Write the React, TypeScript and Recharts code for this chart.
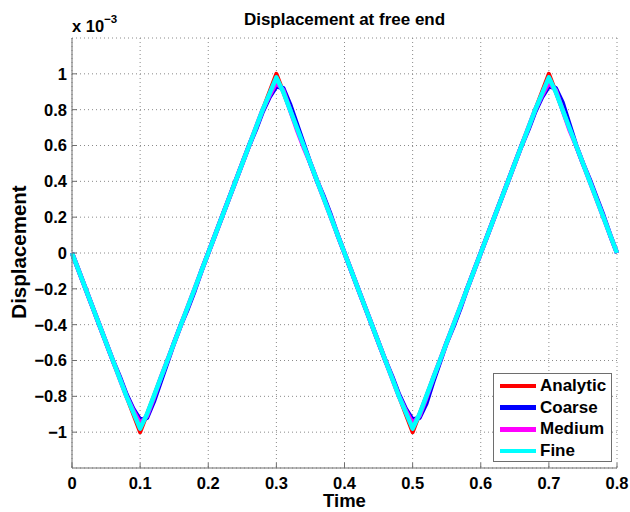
import React from 'react';
import { LineChart, Line, XAxis, YAxis, CartesianGrid, Label } from 'recharts';

const analyticTime = [0, 0.1, 0.2, 0.3, 0.4, 0.5, 0.6, 0.7, 0.8];
const analyticDisp = [0, -1, 0, 1, 0, -1, 0, 1, 0];

const simTime = [
  0, 0.01, 0.02, 0.03, 0.04, 0.05, 0.06, 0.07, 0.08, 0.09, 0.1,
  0.11, 0.12, 0.13, 0.14, 0.15, 0.16, 0.17, 0.18, 0.19, 0.2,
  0.21, 0.22, 0.23, 0.24, 0.25, 0.26, 0.27, 0.28, 0.29, 0.3,
  0.31, 0.32, 0.33, 0.34, 0.35, 0.36, 0.37, 0.38, 0.39, 0.4,
  0.41, 0.42, 0.43, 0.44, 0.45, 0.46, 0.47, 0.48, 0.49, 0.5,
  0.51, 0.52, 0.53, 0.54, 0.55, 0.56, 0.57, 0.58, 0.59, 0.6,
  0.61, 0.62, 0.63, 0.64, 0.65, 0.66, 0.67, 0.68, 0.69, 0.7,
  0.71, 0.72, 0.73, 0.74, 0.75, 0.76, 0.77, 0.78, 0.79, 0.8,
];
const coarseDisp = [
  0, -0.1, -0.2, -0.3, -0.4, -0.5, -0.6, -0.69, -0.79, -0.87, -0.93,
  -0.92, -0.83, -0.72, -0.61, -0.5, -0.4, -0.31, -0.21, -0.1, 0,
  0.1, 0.2, 0.3, 0.4, 0.5, 0.6, 0.69, 0.79, 0.87, 0.93,
  0.92, 0.83, 0.72, 0.61, 0.5, 0.4, 0.31, 0.21, 0.1, 0,
  -0.1, -0.2, -0.3, -0.4, -0.5, -0.6, -0.69, -0.79, -0.87, -0.93,
  -0.92, -0.84, -0.72, -0.61, -0.5, -0.41, -0.31, -0.2, -0.1, 0,
  0.1, 0.2, 0.3, 0.4, 0.5, 0.6, 0.69, 0.79, 0.87, 0.93,
  0.92, 0.84, 0.72, 0.6, 0.5, 0.41, 0.31, 0.21, 0.1, 0,
];
const mediumDisp = [
  0, -0.1, -0.2, -0.3, -0.4, -0.5, -0.6, -0.7, -0.8, -0.88, -0.95,
  -0.91, -0.81, -0.7, -0.6, -0.5, -0.4, -0.3, -0.2, -0.1, 0,
  0.1, 0.2, 0.3, 0.4, 0.5, 0.6, 0.7, 0.8, 0.88, 0.95,
  0.91, 0.8, 0.69, 0.59, 0.5, 0.4, 0.3, 0.2, 0.1, 0,
  -0.1, -0.2, -0.3, -0.4, -0.5, -0.6, -0.7, -0.8, -0.88, -0.95,
  -0.91, -0.81, -0.7, -0.6, -0.5, -0.4, -0.3, -0.2, -0.1, 0,
  0.1, 0.2, 0.3, 0.4, 0.5, 0.6, 0.7, 0.8, 0.88, 0.95,
  0.91, 0.8, 0.69, 0.6, 0.5, 0.4, 0.3, 0.2, 0.1, 0,
];
const fineDisp = [
  0, -0.1, -0.2, -0.3, -0.4, -0.5, -0.6, -0.7, -0.8, -0.89, -0.98,
  -0.9, -0.8, -0.7, -0.6, -0.5, -0.4, -0.3, -0.2, -0.1, 0,
  0.1, 0.2, 0.3, 0.4, 0.5, 0.6, 0.7, 0.8, 0.89, 0.98,
  0.9, 0.8, 0.7, 0.6, 0.5, 0.4, 0.3, 0.2, 0.1, 0,
  -0.1, -0.2, -0.3, -0.4, -0.5, -0.6, -0.7, -0.8, -0.89, -0.98,
  -0.9, -0.8, -0.7, -0.6, -0.5, -0.4, -0.3, -0.2, -0.1, 0,
  0.1, 0.2, 0.3, 0.4, 0.5, 0.6, 0.7, 0.8, 0.89, 0.98,
  0.9, 0.8, 0.7, 0.6, 0.5, 0.4, 0.3, 0.2, 0.1, 0,
];

const seriesNames = ['Analytic', 'Coarse', 'Medium', 'Fine'];
const seriesColors = ['#ff0000', '#0000ff', '#ff00ff', '#00ffff'];

const xTicks = [0, 0.1, 0.2, 0.3, 0.4, 0.5, 0.6, 0.7, 0.8];
const yTicks = [-1, -0.8, -0.6, -0.4, -0.2, 0, 0.2, 0.4, 0.6, 0.8, 1];

const titleText = 'Displacement at free end';
const xLabelText = 'Time';
const yLabelText = 'Displacement';
const scaleBase = 'x 10';
const scaleExp = '\u22123';

const FONT = '"Liberation Sans", Arial, Helvetica, sans-serif';
const AXIS = '#6e6e6e';

const toPts = (ts: number[], ys: number[]) => ts.map((t, i) => ({ t, y: ys[i] }));
const seriesData = [
  toPts(analyticTime, analyticDisp),
  toPts(simTime, coarseDisp),
  toPts(simTime, mediumDisp),
  toPts(simTime, fineDisp),
];

const fmt = (v: number) => String(Math.round(v * 10) / 10).replace('-', '\u2212');

const tickStyle = { fontFamily: FONT, fontWeight: 700, fontSize: 16.5, fill: '#000' };
const boldText = { fontFamily: FONT, fontWeight: 700, fill: '#000' };

export default function App() {
  return (
    <div style={{ position: 'absolute', left: 0, top: 0, width: 630, height: 512, background: '#fff' }}>
      <LineChart width={630} height={512} margin={{ top: 38, right: 13, bottom: 0, left: 0 }}>
        <CartesianGrid stroke="#8a8a8a" strokeDasharray="1 3" />
        <XAxis
          dataKey="t"
          type="number"
          domain={[0, 0.8]}
          ticks={xTicks}
          height={44}
          tickSize={-5}
          tickMargin={14}
          tick={tickStyle}
          tickFormatter={fmt}
          axisLine={{ stroke: AXIS }}
          tickLine={{ stroke: AXIS }}
        >
          <Label
            content={(p: any) => {
              const vb = p.viewBox || {};
              return (
                <text x={vb.x + vb.width / 2} y={vb.y + 39} textAnchor="middle" style={{ ...boldText, fontSize: 18.5 }}>
                  {xLabelText}
                </text>
              );
            }}
          />
        </XAxis>
        <XAxis
          xAxisId="top"
          orientation="top"
          dataKey="t"
          type="number"
          domain={[0, 0.8]}
          ticks={xTicks}
          height={0}
          tickSize={-5}
          tick={false}
          axisLine={{ stroke: AXIS }}
          tickLine={{ stroke: AXIS }}
        />
        <YAxis
          type="number"
          domain={[-1.2, 1.2]}
          ticks={yTicks}
          width={72}
          tickSize={-5}
          tickMargin={10}
          tick={tickStyle}
          tickFormatter={fmt}
          axisLine={{ stroke: AXIS }}
          tickLine={{ stroke: AXIS }}
        >
          <Label
            content={(p: any) => {
              const vb = p.viewBox || {};
              const x = vb.x + 25.5;
              const y = vb.y + vb.height / 2 - 1;
              return (
                <text
                  x={x}
                  y={y}
                  textAnchor="middle"
                  transform={`rotate(-90, ${x}, ${y})`}
                  style={{ ...boldText, fontSize: 20.5 }}
                >
                  {yLabelText}
                </text>
              );
            }}
          />
        </YAxis>
        <YAxis
          yAxisId="right"
          orientation="right"
          type="number"
          domain={[-1.2, 1.2]}
          ticks={yTicks}
          width={0}
          tickSize={-5}
          tick={false}
          axisLine={{ stroke: AXIS }}
          tickLine={{ stroke: AXIS }}
        />
        {seriesNames.map((name, i) => (
          <Line
            key={name}
            name={name}
            data={seriesData[i]}
            dataKey="y"
            type="linear"
            stroke={seriesColors[i]}
            strokeWidth={i === 0 ? 4 : 4.5}
            strokeLinejoin="round"
            dot={false}
            activeDot={false}
            isAnimationActive={false}
          />
        ))}
      </LineChart>
      <svg
        width={630}
        height={60}
        style={{ position: 'absolute', left: 0, top: 0, pointerEvents: 'none' }}
      >
        <text x={344.5} y={25} textAnchor="middle" style={{ ...boldText, fontSize: 17 }}>
          {titleText}
        </text>
        <text x={72} y={32} style={{ ...boldText, fontSize: 16.5 }}>
          <tspan>{scaleBase}</tspan>
          <tspan dy={-9} style={{ fontSize: 11.5 }}>{scaleExp}</tspan>
        </text>
      </svg>
      <div
        style={{
          position: 'absolute',
          left: 493,
          top: 373,
          width: 117,
          height: 87,
          border: '1px solid #6e6e6e',
          background: '#fff',
          fontFamily: FONT,
          fontWeight: 700,
          fontSize: 17,
          color: '#000',
        }}
      >
        {seriesNames.map((name, i) => (
          <div
            key={name}
            style={{ position: 'absolute', left: 6, top: 1 + i * 21.7, height: 22, display: 'flex', alignItems: 'center' }}
          >
            <div style={{ width: 36, height: 4.5, background: seriesColors[i], marginRight: 4 }} />
            <span style={{ lineHeight: '22px' }}>{name}</span>
          </div>
        ))}
      </div>
    </div>
  );
}
